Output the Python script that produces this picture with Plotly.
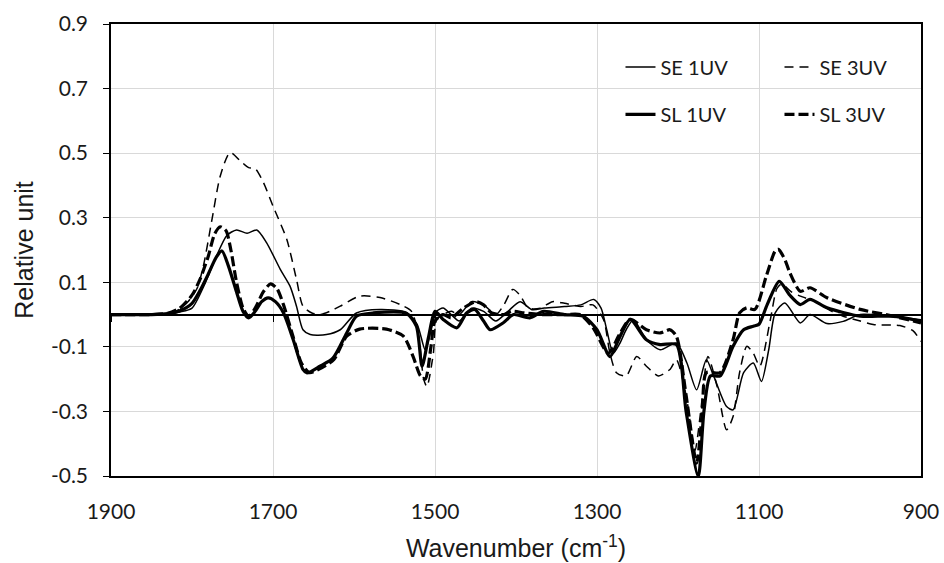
import plotly.graph_objects as go

# ---------------- data ----------------
se1_w = [1900, 1850, 1830, 1815, 1800, 1785, 1770, 1757, 1745, 1732, 1720, 1708, 1691, 1679, 1671, 1663, 1654,
         1634, 1617, 1597, 1568, 1535, 1522, 1512, 1505, 1498, 1490, 1480, 1470, 1455, 1440, 1425, 1410, 1395,
         1380, 1365, 1340, 1320, 1304, 1295, 1288, 1280, 1272, 1264, 1255, 1239, 1222, 1202, 1189, 1177, 1165,
         1156, 1140, 1132, 1119, 1107, 1097, 1088, 1080, 1068, 1049, 1037, 1016, 996, 975, 940, 900]
se1_v = [0, 0, 0.002, 0.008, 0.02, 0.09, 0.18, 0.245, 0.262, 0.252, 0.262, 0.223, 0.14, 0.088, 0.026, -0.047, -0.062,
         -0.062, -0.047, 0.005, 0.016, 0.007, -0.03, -0.11, -0.05, 0.01, 0.02, 0.0, -0.02, 0.02, 0.01, -0.02, 0.01, 0.04,
         0.015, 0.02, 0.025, 0.03, 0.047, 0.02, -0.047, -0.12, -0.09, -0.047, -0.016, -0.078, -0.109, -0.088, -0.15, -0.233, -0.14,
         -0.19, -0.285, -0.295, -0.18, -0.15, -0.207, -0.109, 0.005, 0.036, -0.026, 0.0, -0.028, -0.021, 0.0, -0.005, -0.016]

se3_w = [1900, 1850, 1830, 1820, 1805, 1794, 1786, 1776, 1765, 1753, 1740, 1730, 1722, 1712, 1700, 1683, 1671, 1663,
         1652, 1642, 1630, 1617, 1593, 1568, 1543, 1529, 1520, 1514, 1510, 1502, 1498, 1490, 1480, 1470, 1455, 1440,
         1425, 1415, 1404, 1395, 1385, 1370, 1355, 1340, 1320, 1305, 1292, 1284, 1276, 1264, 1251, 1239, 1224, 1210,
         1202, 1190, 1179, 1172, 1163, 1152, 1140, 1132, 1124, 1115, 1107, 1099, 1086, 1078, 1072, 1060, 1049, 1030,
         1010, 996, 975, 959, 926, 910, 900]
se3_v = [0, 0, 0.003, 0.01, 0.04, 0.08, 0.15, 0.285, 0.43, 0.502, 0.475, 0.455, 0.452, 0.41, 0.336, 0.233, 0.109, 0.026,
         0.005, 0.0, 0.01, 0.026, 0.057, 0.053, 0.031, 0.01, -0.07, -0.2, -0.223, -0.12, -0.015, 0.0, 0.01, 0.0, 0.04, 0.03,
         0.0, 0.03, 0.078, 0.06, 0.02, 0.02, 0.04, 0.035, 0.025, 0.03, -0.015, -0.12, -0.18, -0.19, -0.13, -0.16, -0.19, -0.17,
         -0.14, -0.25, -0.42, -0.3, -0.13, -0.22, -0.357, -0.316, -0.18, -0.098, -0.12, -0.16, -0.016, 0.08, 0.095, 0.07, 0.057, 0.04,
         0.01, -0.005, -0.02, -0.031, -0.034, -0.05, -0.083]

sl1_w = [1900, 1850, 1830, 1815, 1800, 1790, 1780, 1770, 1763, 1755, 1745, 1737, 1730, 1722, 1714, 1706, 1697, 1687,
         1675, 1663, 1658, 1642, 1626, 1609, 1597, 1576, 1535, 1523, 1516, 1508, 1500, 1490, 1473, 1461, 1451, 1440,
         1432, 1416, 1403, 1383, 1366, 1340, 1317, 1300, 1284, 1272, 1259, 1239, 1222, 1202, 1190, 1175, 1168, 1160,
         1148, 1132, 1119, 1107, 1100, 1090, 1075, 1062, 1049, 1037, 1016, 975, 935, 900]
sl1_v = [0, 0, 0.003, 0.012, 0.035, 0.075, 0.125, 0.178, 0.197, 0.15, 0.07, 0.01, -0.01, 0.01, 0.04, 0.052, 0.04, 0.005,
         -0.078, -0.17, -0.181, -0.16, -0.135, -0.057, -0.005, 0.005, 0.003, -0.036, -0.16, -0.07, 0.01, -0.015, -0.041, 0.005, 0.016, -0.02,
         -0.047, -0.026, 0.0, -0.01, 0.01, 0.0, -0.005, -0.047, -0.13, -0.07, -0.015, -0.078, -0.093, -0.093, -0.3, -0.502, -0.3, -0.19,
         -0.19, -0.098, -0.047, -0.036, -0.03, 0.03, 0.103, 0.06, 0.031, 0.047, 0.021, -0.005, -0.005, -0.021]

sl3_w = [1900, 1850, 1830, 1815, 1800, 1790, 1780, 1772, 1765, 1758, 1752, 1745, 1737, 1730, 1722, 1712, 1703, 1695,
         1687, 1675, 1665, 1655, 1640, 1625, 1609, 1593, 1560, 1539, 1527, 1518, 1512, 1505, 1500, 1490, 1480, 1465,
         1450, 1440, 1430, 1415, 1405, 1390, 1370, 1340, 1321, 1305, 1286, 1272, 1259, 1239, 1222, 1210, 1202, 1190,
         1177, 1170, 1165, 1148, 1132, 1124, 1115, 1105, 1091, 1080, 1076, 1068, 1062, 1049, 1037, 1016, 975, 934, 900]
sl3_v = [0, 0, 0.004, 0.02, 0.06, 0.11, 0.18, 0.25, 0.272, 0.26, 0.2, 0.1, 0.02, -0.005, 0.02, 0.07, 0.095, 0.08,
         0.03, -0.07, -0.15, -0.18, -0.165, -0.14, -0.067, -0.045, -0.045, -0.067, -0.13, -0.19, -0.2, -0.1, -0.02, 0.0, -0.01, 0.02,
         0.04, 0.03, 0.005, 0.0, 0.01, 0.005, 0.0, 0.0, 0.0, -0.04, -0.12, -0.06, -0.015, -0.047, -0.057, -0.047, -0.067, -0.25,
         -0.46, -0.3, -0.18, -0.18, -0.078, 0.005, 0.021, 0.016, 0.119, 0.197, 0.202, 0.17, 0.13, 0.072, 0.083, 0.052, 0.016, -0.005, -0.026]

x_ticks = [1900, 1700, 1500, 1300, 1100, 900]
x_labels = ["1900", "1700", "1500", "1300", "1100", "900"]
y_ticks = [-0.5, -0.3, -0.1, 0.1, 0.3, 0.5, 0.7, 0.9]
y_labels = ["-0.5", "-0.3", "-0.1", "0.1", "0.3", "0.5", "0.7", "0.9"]

# ---------------- figure ----------------
fig = go.Figure()
series = [
    ("SE 1UV", se1_w, se1_v, 1.5, "solid", "legend"),
    ("SE 3UV", se3_w, se3_v, 1.5, "9px,6px", "legend"),
    ("SL 1UV", sl1_w, sl1_v, 3.2, "solid", "legend2"),
    ("SL 3UV", sl3_w, sl3_v, 3.2, "10px,4px", "legend2"),
]
for name, xs, ys, wdt, dash, leg in series:
    fig.add_trace(go.Scatter(x=xs, y=ys, name=name, mode="lines",
                             line=dict(color="black", width=wdt, dash=dash, shape="spline", smoothing=0.7),
                             legend=leg))

# invisible trace to carry the secondary x axis (ticks on the zero line)
fig.add_trace(go.Scatter(x=[1900, 900], y=[0, 0], xaxis="x2", mode="lines",
                         line=dict(width=0), showlegend=False, hoverinfo="skip"))

tick_font = dict(family="Lato", size=21, color="#1a1a1a")
title_font = dict(family="Liberation Sans", size=25, color="#1a1a1a")
leg_font = dict(family="Lato", size=20, color="#1a1a1a")
fig.update_layout(
    width=944, height=563,
    margin=dict(l=111, r=23, t=24, b=87, autoexpand=False),
    paper_bgcolor="white", plot_bgcolor="white",
    xaxis=dict(range=[1900, 900], tickvals=x_ticks, ticktext=x_labels, showgrid=True, gridcolor="#d9d9d9",
               gridwidth=1.3, showline=True, linecolor="black", linewidth=1.5, mirror=True, ticks="",
               tickfont=tick_font, ticklabelstandoff=16, automargin=False,
               title=dict(text="Wavenumber (cm<sup>-1</sup>)", font=title_font, standoff=18),
               zeroline=False),
    xaxis2=dict(range=[1900, 900], tickvals=x_ticks, overlaying="x", anchor="free", position=0.5 / 1.4,
                side="bottom", showticklabels=False, ticks="outside", ticklen=6, tickcolor="black",
                tickwidth=1.2, showgrid=False, showline=False, zeroline=False, automargin=False),
    yaxis=dict(range=[-0.5, 0.9], tickvals=y_ticks, ticktext=y_labels, showgrid=True, gridcolor="#d9d9d9",
               gridwidth=1.3, showline=True, linecolor="black", linewidth=1.5, mirror=True,
               ticks="outside", ticklen=6, tickcolor="black", tickfont=tick_font, ticklabelstandoff=11,
               zeroline=True, zerolinecolor="black", zerolinewidth=1.5, automargin=False,
               title=dict(text="Relative unit", font=title_font, standoff=10)),
    legend=dict(orientation="h", x=0.629, y=0.905, xanchor="left", yanchor="middle", entrywidth=114,
                bgcolor="rgba(0,0,0,0)", font=leg_font),
    legend2=dict(orientation="h", x=0.629, y=0.80, xanchor="left", yanchor="middle", entrywidth=114,
                 bgcolor="rgba(0,0,0,0)", font=leg_font),
    shapes=[dict(type="rect", xref="paper", yref="paper", x0=0.579, x1=0.965, y0=0.748, y1=0.965,
                 fillcolor="white", line=dict(width=0), layer="between")],
    showlegend=True,
)

fig.write_html("out.html")
